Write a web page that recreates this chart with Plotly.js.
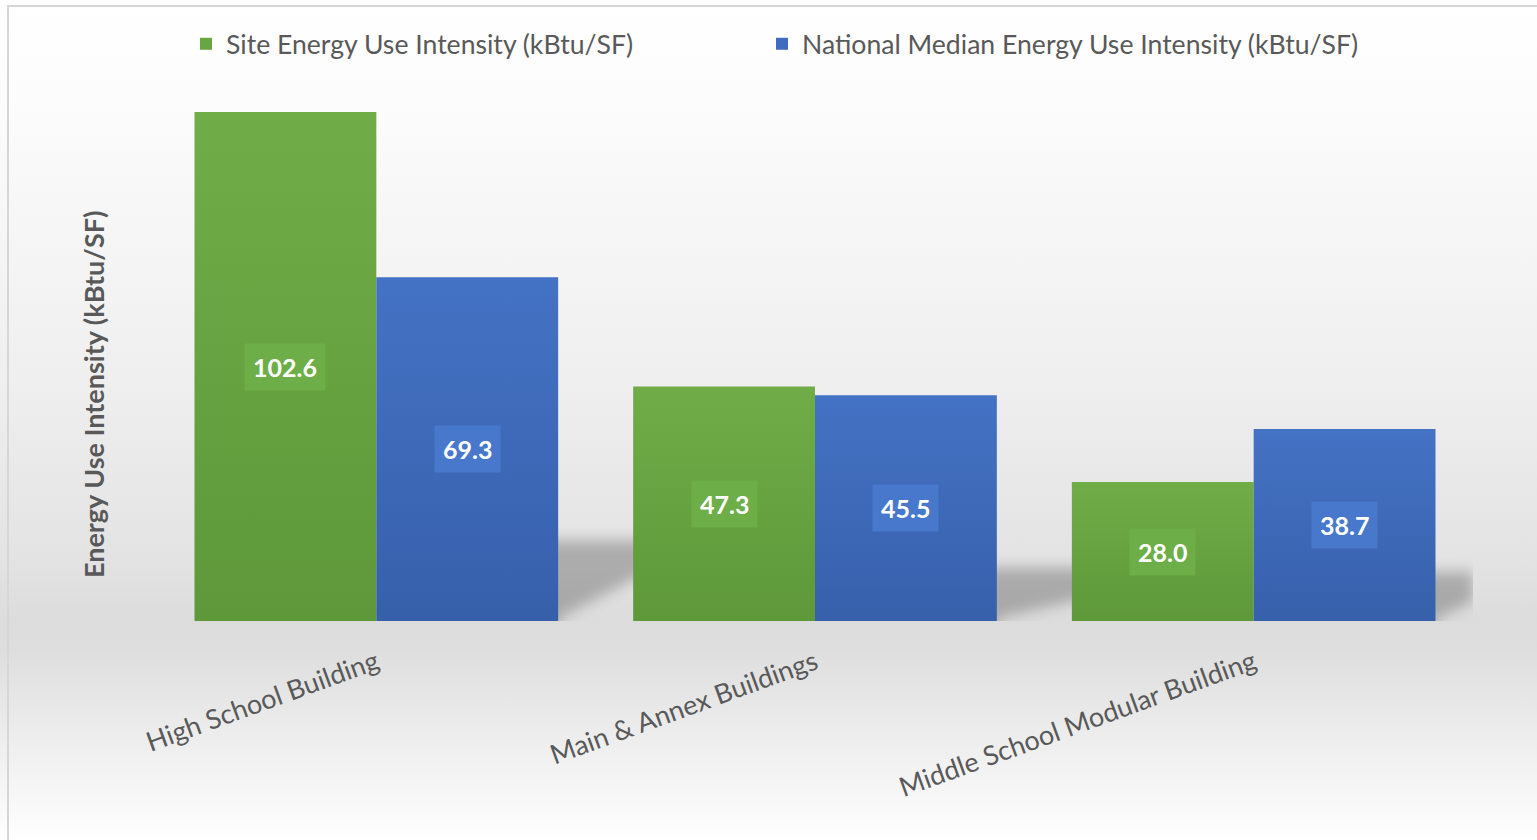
<!DOCTYPE html>
<html>
<head>
<meta charset="utf-8">
<script src="https://cdn.plot.ly/plotly-3.0.1.min.js"></script>
<style>
  html, body { margin: 0; padding: 0; background: #ffffff; }
  #wrap {
    position: relative; width: 1537px; height: 840px; overflow: hidden;
    background: linear-gradient(to bottom,
      #ffffff 0px, #fcfcfc 100px, #efefef 380px, #e3e3e3 560px,
      #dcdcdc 622px, #dedede 650px, #ececec 730px, #fbfbfb 820px, #ffffff 840px);
  }
  #chart { position: absolute; left: 0; top: 0; width: 1537px; height: 840px; }
  #frame {
    position: absolute; left: 7px; top: 5px; right: -4px; bottom: -4px;
    border: 2px solid #d6d6d6; pointer-events: none;
  }
</style>
</head>
<body>
<div id="wrap"><div id="chart"></div><div id="frame"></div></div>
<script>
// Energy use intensity per building
const buildings = ['High School Building', 'Main & Annex Buildings', 'Middle School Modular Building'];
const siteEUI = [102.6, 47.3, 28.0];
const nationalEUI = [69.3, 45.5, 38.7];
const seriesNames = ['Site Energy Use Intensity (kBtu/SF)', 'National Median Energy Use Intensity (kBtu/SF)'];
const yTitle = 'Energy Use Intensity (kBtu/SF)';

const FONT = 'Lato, "Open Sans", sans-serif';
const TEXT_GRAY = '#595959';
const W = 1537, H = 840;
const M = { l: 157, r: 64, t: 60, b: 219 };
const plotW = W - M.l - M.r, plotH = H - M.t - M.b;
const BARGAP = 0.171;
const halfGroup = (1 - BARGAP) / 2;

// pixel -> paper helpers for items placed around the plot area
const xp = px => (px - M.l) / plotW;
const yp = py => (H - M.b - py) / plotH;

const traces = [
  { type: 'bar', name: seriesNames[0], x: buildings, y: siteEUI,
    marker: { color: '#68a642' }, legend: 'legend', hoverinfo: 'x+y' },
  { type: 'bar', name: seriesNames[1], x: buildings, y: nationalEUI,
    marker: { color: '#3f6cbf' }, legend: 'legend2', hoverinfo: 'x+y' }
];

// value labels sit in the middle of each bar on a slightly lighter box
const annotations = [];
const boxColors = ['#6dae48', '#4878cb'];
[siteEUI, nationalEUI].forEach((vals, s) => {
  vals.forEach((v, i) => {
    annotations.push({
      x: i + (s === 0 ? -1 : 1) * halfGroup / 2, y: v / 2, xref: 'x', yref: 'y',
      text: v.toFixed(1), showarrow: false,
      font: { family: FONT, size: 25, color: '#ffffff', weight: 'bold' },
      bgcolor: boxColors[s], borderpad: 8
    });
  });
});
annotations.push({
  x: xp(93), y: yp(395), xref: 'paper', yref: 'paper', textangle: -90,
  xanchor: 'center', yanchor: 'middle',
  text: yTitle, showarrow: false,
  font: { family: FONT, size: 27, color: TEXT_GRAY, weight: 'bold' }
});

// soft floor shadows trailing behind each pair of bars; they start under the
// blue bar so the blur only softens the far edges
const shapes = buildings.map((b, i) => {
  const peak = Math.max(siteEUI[i], nationalEUI[i]);
  const depth = 6 + 0.1 * peak;
  const x0 = i + halfGroup;
  const xa = x0 - 0.06;
  const x1 = Math.min(x0 + BARGAP + 0.04, 2.5);
  return {
    type: 'path', xref: 'x', yref: 'y', layer: 'below',
    path: `M${xa},-3 L${xa},${depth} L${x1},${depth} L${x1},${depth - 6} L${x0},0.5 L${x0},-3 Z`,
    fillcolor: 'rgba(0,0,0,0.24)', line: { width: 0 }
  };
});

const legendBase = {
  orientation: 'h', xanchor: 'left', yanchor: 'middle', y: yp(44),
  bgcolor: 'rgba(0,0,0,0)', font: { family: FONT, size: 26.6, color: TEXT_GRAY }
};

const layout = {
  width: W, height: H, margin: M,
  paper_bgcolor: 'rgba(0,0,0,0)', plot_bgcolor: 'rgba(0,0,0,0)',
  font: { family: FONT, color: TEXT_GRAY },
  barmode: 'group', bargap: BARGAP, bargroupgap: 0,
  showlegend: true,
  legend: Object.assign({}, legendBase, { x: xp(186) }),
  legend2: Object.assign({}, legendBase, { x: xp(762) }),
  xaxis: {
    type: 'category', range: [-0.5, 2.5], showgrid: false, zeroline: false,
    showline: false, ticks: '', tickangle: -20, ticklabelstandoff: 20,
    tickfont: { family: FONT, size: 27, color: TEXT_GRAY }
  },
  yaxis: {
    range: [0, plotH / 4.96], showgrid: false, zeroline: false,
    showline: false, showticklabels: false, ticks: ''
  },
  annotations, shapes
};

Plotly.newPlot('chart', traces, layout, { displayModeBar: false, staticPlot: true }).then(gd => {
  const NS = 'http://www.w3.org/2000/svg';
  const svg = gd.querySelector('.main-svg');
  const defs = document.createElementNS(NS, 'defs');
  defs.innerHTML =
    '<linearGradient id="barGreen" x1="0" y1="0" x2="0" y2="1">' +
      '<stop offset="0" stop-color="#70ad47"/><stop offset="1" stop-color="#5e983a"/></linearGradient>' +
    '<linearGradient id="barBlue" x1="0" y1="0" x2="0" y2="1">' +
      '<stop offset="0" stop-color="#4472c4"/><stop offset="1" stop-color="#3760ab"/></linearGradient>';
  svg.insertBefore(defs, svg.firstChild);
  const fills = ['url(#barGreen)', 'url(#barBlue)'];
  gd.querySelectorAll('.barlayer .trace').forEach((tr, k) => {
    tr.querySelectorAll('.point path').forEach(p => { p.style.fill = fills[k]; });
  });
  gd.querySelectorAll('.shapelayer path').forEach(p => {
    p.style.filter = 'blur(7px)';
  });
});
</script>
</body>
</html>
